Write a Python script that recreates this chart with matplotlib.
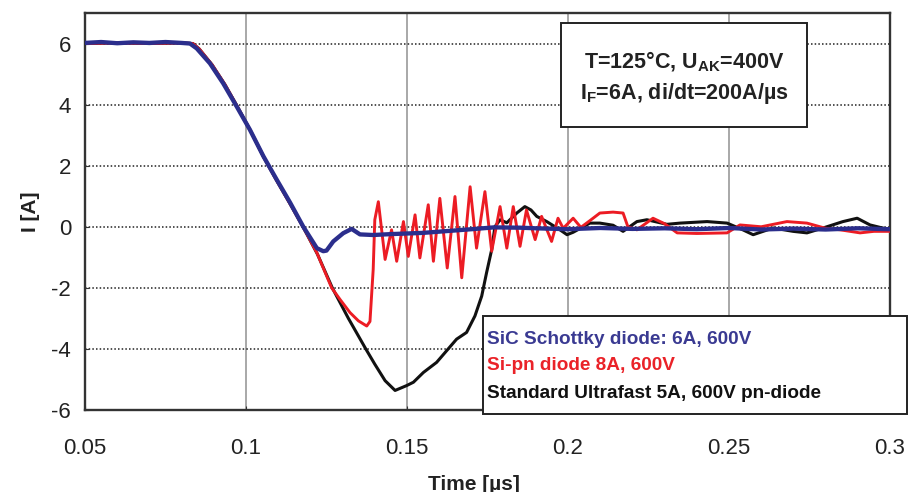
import matplotlib.pyplot as plt
from matplotlib.patches import Rectangle

plt.rcParams['font.family'] = 'Liberation Sans'
plt.rcParams['axes.unicode_minus'] = False
plt.rcParams['mathtext.fontset'] = 'custom'
plt.rcParams['mathtext.rm'] = 'Liberation Sans:bold'
plt.rcParams['mathtext.bf'] = 'Liberation Sans:bold'
plt.rcParams['mathtext.default'] = 'bf'

t_sic = [0.050, 0.055, 0.060, 0.065, 0.070, 0.075, 0.080, 0.0826, 0.0847, 0.0888,
         0.0929, 0.0971, 0.1012, 0.1054, 0.1095, 0.1137, 0.1178, 0.1220, 0.1240, 0.1250,
         0.1271, 0.1302, 0.1328, 0.1354, 0.1395, 0.145, 0.150, 0.155, 0.160, 0.165,
         0.170, 0.177, 0.185, 0.190, 0.200, 0.210, 0.220, 0.230, 0.240, 0.250,
         0.260, 0.270, 0.280, 0.290, 0.300]
i_sic = [6.02, 6.05, 6.01, 6.04, 6.02, 6.05, 6.02, 6.00, 5.84, 5.35,
         4.70, 3.94, 3.18, 2.31, 1.55, 0.79, 0.00, -0.70, -0.80, -0.78,
         -0.48, -0.21, -0.07, -0.25, -0.27, -0.24, -0.22, -0.20, -0.16, -0.12,
         -0.08, -0.02, -0.03, -0.05, -0.08, -0.04, -0.07, -0.05, -0.08, -0.04,
         -0.09, -0.06, -0.09, -0.05, -0.08]

t_sipn = [0.050, 0.060, 0.070, 0.080, 0.0835, 0.0855, 0.0895, 0.0935, 0.0975, 0.1015,
          0.1055, 0.1095, 0.1137, 0.1178, 0.1220, 0.1240, 0.1266, 0.1292, 0.1323, 0.1349,
          0.1375, 0.1385, 0.1395, 0.1400, 0.1411, 0.1432, 0.1452, 0.1468, 0.1489, 0.1504,
          0.1525, 0.1540, 0.1566, 0.1582, 0.1602, 0.1625, 0.1649, 0.1670, 0.1696, 0.1716,
          0.1742, 0.1763, 0.1789, 0.1810, 0.1830, 0.1851, 0.1871, 0.1898, 0.1918, 0.1949,
          0.1969, 0.1985, 0.2016, 0.2040, 0.2068, 0.2099, 0.2140, 0.2171, 0.2186, 0.2214,
          0.2264, 0.2300, 0.2339, 0.2400, 0.2494, 0.2534, 0.2600, 0.2680, 0.2742, 0.2800,
          0.2845, 0.2907, 0.2950, 0.3000]
i_sipn = [6.00, 6.02, 6.00, 6.02, 6.00, 5.82, 5.30, 4.65, 3.90, 3.12,
          2.28, 1.52, 0.75, -0.02, -0.85, -1.35, -2.00, -2.38, -2.81, -3.08,
          -3.25, -3.10, -1.40, 0.23, 0.82, -1.07, -0.10, -1.13, 0.17, -0.97,
          0.39, -1.02, 0.72, -1.13, 0.93, -1.35, 0.99, -1.67, 1.31, -0.70,
          1.15, -0.80, 0.66, -0.70, 0.66, -0.64, 0.55, -0.42, 0.34, -0.48,
          0.28, -0.05, 0.28, -0.02, 0.20, 0.45, 0.48, 0.45, 0.00, -0.10,
          0.28, 0.10, -0.20, -0.22, -0.20, 0.06, 0.00, 0.17, 0.12, -0.05,
          -0.10, -0.20, -0.15, -0.15]

t_std = [0.050, 0.060, 0.070, 0.080, 0.0835, 0.0855, 0.0895, 0.0935, 0.0975, 0.1015,
         0.1055, 0.1095, 0.1137, 0.1178, 0.1222, 0.1268, 0.1318, 0.1372, 0.1400,
         0.1432, 0.1463, 0.1499, 0.1520, 0.1551, 0.1592, 0.1623, 0.1654, 0.1685, 0.1711,
         0.1732, 0.1747, 0.1763, 0.1773, 0.1789, 0.1810, 0.1841, 0.1866, 0.1885, 0.1903,
         0.1934, 0.1975, 0.1997, 0.2016, 0.2068, 0.2099, 0.2140, 0.2171, 0.2214, 0.2245,
         0.2307, 0.2348, 0.2432, 0.2494, 0.2543, 0.2575, 0.2637, 0.2699, 0.2742, 0.2792,
         0.2854, 0.2898, 0.2938, 0.3000]
i_std = [6.00, 6.02, 6.00, 6.02, 6.00, 5.82, 5.30, 4.65, 3.90, 3.12,
         2.28, 1.52, 0.75, -0.02, -0.90, -2.00, -3.00, -4.00, -4.50,
         -5.04, -5.36, -5.20, -5.09, -4.77, -4.44, -4.06, -3.68, -3.46, -2.92,
         -2.27, -1.51, -0.75, 0.00, 0.23, 0.13, 0.45, 0.66, 0.55, 0.34,
         0.17, -0.10, -0.26, -0.18, 0.12, 0.12, 0.05, -0.15, 0.17, 0.23,
         0.08, 0.12, 0.17, 0.12, -0.10, -0.26, -0.04, -0.15, -0.20, -0.04,
         0.17, 0.28, 0.06, -0.10]

x_ticks = [0.05, 0.1, 0.15, 0.2, 0.25, 0.3]
x_ticklabels = ['0.05', '0.1', '0.15', '0.2', '0.25', '0.3']
y_ticks = [-6, -4, -2, 0, 2, 4, 6]

legend_labels = ['SiC Schottky diode: 6A, 600V',
                 'Si-pn diode 8A, 600V',
                 'Standard Ultrafast 5A, 600V pn-diode']

BLUE = '#2B2E8C'
RED = '#EC1C24'
BLACK = '#111111'

fig = plt.figure(figsize=(9.09, 4.92), dpi=100)
W, H = 909, 492
ax = fig.add_axes([85 / W, 1 - 410 / H, 805 / W, 397 / H])

ax.plot(t_std, i_std, color=BLACK, lw=2.2, zorder=3)
ax.plot(t_sipn, i_sipn, color=RED, lw=2.1, zorder=4)
ax.plot(t_sic, i_sic, color=BLUE, lw=3.1, zorder=5)

ax.set_xlim(0.05, 0.3)
ax.set_ylim(-6, 7)
ax.set_xticks(x_ticks)
ax.set_xticklabels(x_ticklabels)
ax.set_yticks(y_ticks)
ax.tick_params(axis='both', direction='in', length=3, labelsize=16,
               labelcolor='#222222', color='#333333')
ax.tick_params(axis='x', pad=20)
ax.tick_params(axis='y', pad=10)

ax.set_axisbelow(True)
ax.xaxis.grid(True, color='#999999', lw=1.2, ls='-')
ax.yaxis.grid(True, color='#222222', lw=1.1, ls=(0, (1, 1.4)))
for s in ax.spines.values():
    s.set_color('#333333')
    s.set_linewidth(1.7)

ax.set_xlabel('Time [\u00b5s]', fontsize=15, fontweight='bold', color='#222222')
ax.xaxis.set_label_coords((474 - 85) / 805, (410 - 484) / 397)
ax.xaxis.label.set_va('center')
ax.set_ylabel('I [A]', fontsize=15, fontweight='bold', color='#222222')
ax.yaxis.set_label_coords((30 - 85) / 805, 0.5)
ax.yaxis.label.set_va('center')

# condition box
fig.patches.append(Rectangle((561 / W, 1 - 127 / H), 246 / W, 104 / H,
                             transform=fig.transFigure, facecolor='white',
                             edgecolor='#222222', lw=1.4, zorder=10))
fig.text(684 / W, 1 - 62 / H, r'T=125°C, U$_{AK}$=400V', ha='center', va='center',
         fontsize=15.5, fontweight='bold', color='#222222', zorder=11)
fig.text(684 / W, 1 - 93 / H, r'I$_F$=6A, di/dt=200A/µs', ha='center', va='center',
         fontsize=15.5, fontweight='bold', color='#222222', zorder=11)

# legend box
fig.patches.append(Rectangle((483 / W, 1 - 414 / H), 424 / W, 98 / H,
                             transform=fig.transFigure, facecolor='white',
                             edgecolor='#222222', lw=1.4, zorder=10))
for lab, col, yy in zip(legend_labels, ['#3A3A92', '#EA2228', '#111111'], [340, 366, 393]):
    fig.text(487 / W, 1 - yy / H, lab, ha='left', va='center', fontsize=13.7,
             fontweight='bold', color=col, zorder=11)

fig.savefig('out.png', dpi=100, facecolor='white')
